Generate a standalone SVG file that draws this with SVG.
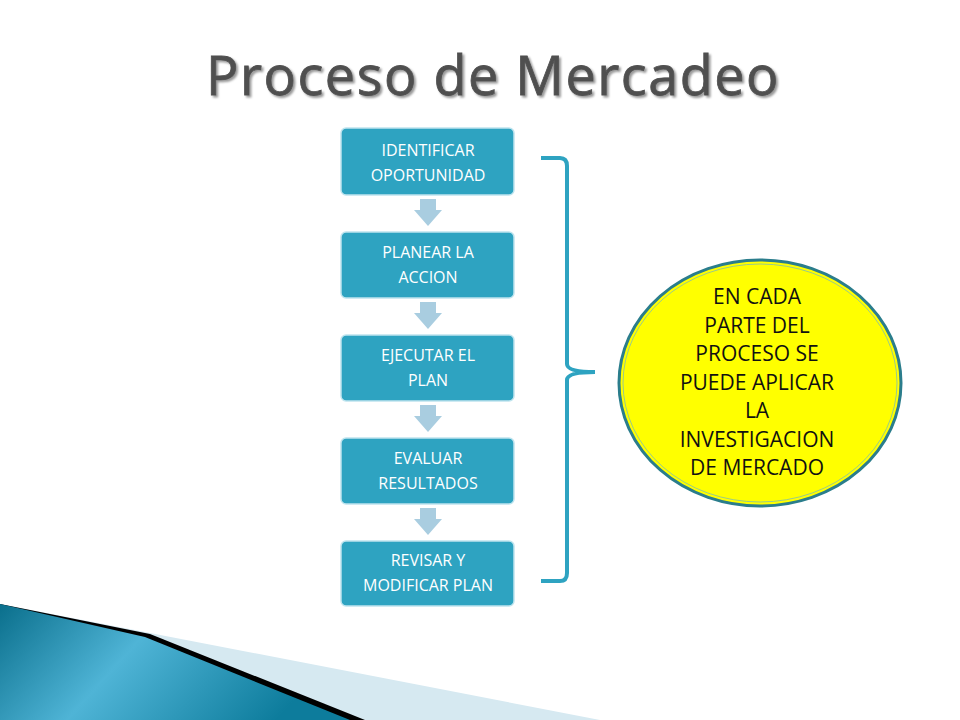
<svg xmlns="http://www.w3.org/2000/svg" width="960" height="720" viewBox="0 0 960 720">
<defs>
<style>
.box{fill:#2ea3c1;stroke:#bfe4ee;stroke-width:1.5}
.bt{font-family:"Open Sans","Liberation Sans",sans-serif;font-size:16px;fill:#fff;text-anchor:middle}
.arr{fill:#a9cde0}
.et{font-family:"Open Sans","Liberation Sans",sans-serif;font-size:21px;fill:#111;text-anchor:middle}
</style>
<linearGradient id="tg" x1="0" y1="0" x2="1" y2="0.3">
<stop offset="0" stop-color="#0a6f8c"/><stop offset="0.45" stop-color="#4fb4d6"/><stop offset="1" stop-color="#0d7c9c"/>
</linearGradient>
<filter id="sh" x="-5%" y="-20%" width="110%" height="140%"><feDropShadow dx="2" dy="2" stdDeviation="1" flood-color="#999"/></filter>
</defs>
<rect width="960" height="720" fill="#fff"/>
<polygon points="0,604 600,720 0,720" fill="#d6e9f1"/>
<polygon points="0,604 150,634 365,720 0,720" fill="#000"/>
<polygon points="0,604 145,637 350,720 0,720" fill="url(#tg)"/>
<text x="493" y="95" font-family="'Open Sans','Liberation Sans',sans-serif" font-size="54" fill="#505050" stroke="#505050" stroke-width="0.8" text-anchor="middle" letter-spacing="1.5" filter="url(#sh)">Proceso de Mercadeo</text>
<g id="n1"><rect class="box" x="341" y="128" width="173" height="67" rx="5"/><text class="bt" x="428" y="156">IDENTIFICAR</text><text class="bt" x="428" y="181">OPORTUNIDAD</text></g>
<g id="n2"><rect class="box" x="341" y="232" width="173" height="66" rx="5"/><text class="bt" x="428" y="258">PLANEAR LA</text><text class="bt" x="428" y="283">ACCION</text></g>
<g id="n3"><rect class="box" x="341" y="335" width="173" height="66" rx="5"/><text class="bt" x="428" y="361">EJECUTAR EL</text><text class="bt" x="428" y="386">PLAN</text></g>
<g id="n4"><rect class="box" x="341" y="438" width="173" height="66" rx="5"/><text class="bt" x="428" y="464">EVALUAR</text><text class="bt" x="428" y="489">RESULTADOS</text></g>
<g id="n5"><rect class="box" x="341" y="541" width="173" height="65" rx="5"/><text class="bt" x="428" y="566">REVISAR Y</text><text class="bt" x="428" y="591">MODIFICAR PLAN</text></g>
<g id="connectors">
<polygon class="arr" points="420,199 436,199 436,210 442,210 428,226 414,210 420,210"/>
<polygon class="arr" points="420,302 436,302 436,313 442,313 428,329 414,313 420,313"/>
<polygon class="arr" points="420,405 436,405 436,416 442,416 428,432 414,416 420,416"/>
<polygon class="arr" points="420,508 436,508 436,519 442,519 428,535 414,519 420,519"/>
<path d="M541,158 L560,158 Q567,158 567,166 L567,364 Q567,372 595,372 Q567,372 567,380 L567,573 Q567,581 560,581 L541,581" fill="none" stroke="#2ea3c1" stroke-width="4"/>
</g>
<g id="ellipse">
<ellipse cx="760" cy="383" rx="141" ry="123" fill="#ffff00" stroke="#2b7d8c" stroke-width="3"/>
<ellipse cx="760" cy="383" rx="137" ry="119" fill="none" stroke="#9acb8a" stroke-width="1"/>
<text class="et" x="757" y="304">EN CADA</text>
<text class="et" x="757" y="333">PARTE DEL</text>
<text class="et" x="757" y="361">PROCESO SE</text>
<text class="et" x="757" y="390">PUEDE APLICAR</text>
<text class="et" x="757" y="418">LA</text>
<text class="et" x="757" y="447">INVESTIGACION</text>
<text class="et" x="757" y="475">DE MERCADO</text>
</g>
</svg>
